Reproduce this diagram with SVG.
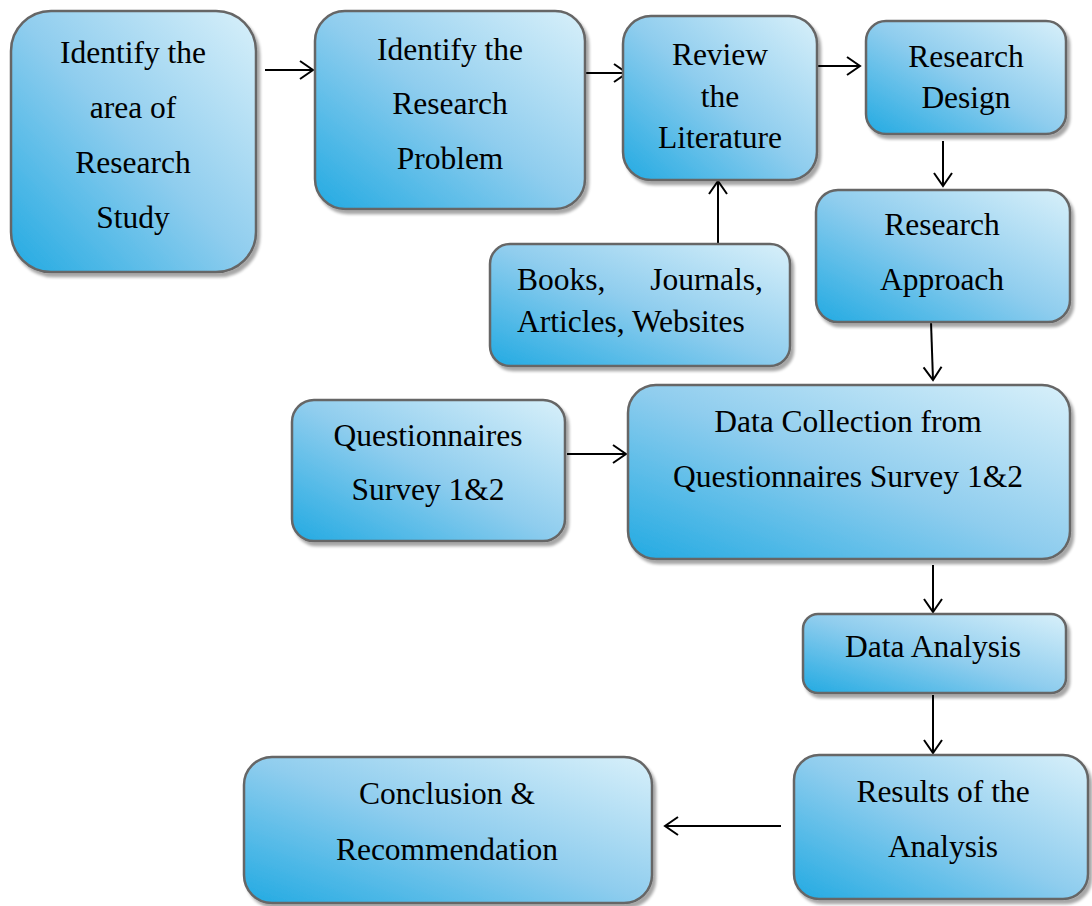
<svg xmlns="http://www.w3.org/2000/svg" width="1092" height="906" viewBox="0 0 1092 906">
<defs>
<linearGradient id="g" x1="0" y1="1" x2="1" y2="0">
<stop offset="0" stop-color="#22aae2"/>
<stop offset="0.5" stop-color="#8fcdee"/>
<stop offset="1" stop-color="#d8f0fa"/>
</linearGradient>
<filter id="sh" x="-10%" y="-10%" width="120%" height="120%">
<feGaussianBlur in="SourceAlpha" stdDeviation="1.5"/>
<feOffset dx="3" dy="4" result="o"/>
<feComponentTransfer><feFuncA type="linear" slope="0.35"/></feComponentTransfer>
<feMerge><feMergeNode/><feMergeNode in="SourceGraphic"/></feMerge>
</filter>
<marker id="ah" markerWidth="18" markerHeight="22" refX="14" refY="11" orient="auto" markerUnits="userSpaceOnUse">
<path d="M1,2 L14,11 L1,20" fill="none" stroke="#000" stroke-width="2"/>
</marker>
</defs>
<style>
.b{fill:url(#g);stroke:#666;stroke-width:2.5;filter:url(#sh)}
.t{font-family:"Liberation Serif","Times New Roman",serif;font-size:31.5px;fill:#000;text-anchor:middle}
.tl{font-family:"Liberation Serif","Times New Roman",serif;font-size:31.5px;fill:#000}
.c{stroke:#000;stroke-width:2;fill:none;marker-end:url(#ah)}
</style>
<rect width="1092" height="906" fill="#fff"/>
<g id="connectors">
<line class="c" x1="265" y1="70" x2="313" y2="70"/>
<line class="c" x1="585" y1="73" x2="627" y2="73"/>
<line class="c" x1="818" y1="66" x2="860" y2="66"/>
<line class="c" x1="943" y1="141" x2="943" y2="186"/>
<line class="c" x1="718" y1="253" x2="718" y2="181"/>
<line class="c" x1="931" y1="322" x2="933" y2="380"/>
<line class="c" x1="567" y1="454" x2="626" y2="454"/>
<line class="c" x1="933" y1="565" x2="933" y2="612"/>
<line class="c" x1="933" y1="695" x2="933" y2="753"/>
<line class="c" x1="781" y1="826" x2="665" y2="826"/>
</g>
<g id="n1"><rect class="b" x="11" y="11" width="245" height="261" rx="40"/>
<text class="t" x="133" y="63">Identify the</text><text class="t" x="133" y="118">area of</text><text class="t" x="133" y="173">Research</text><text class="t" x="133" y="228">Study</text></g>
<g id="n2"><rect class="b" x="315" y="11" width="270" height="198" rx="30"/>
<text class="t" x="450" y="60">Identify the</text><text class="t" x="450" y="114">Research</text><text class="t" x="450" y="169">Problem</text></g>
<g id="n3"><rect class="b" x="623" y="16" width="194" height="164" rx="28"/>
<text class="t" x="720" y="65">Review</text><text class="t" x="720" y="107">the</text><text class="t" x="720" y="148">Literature</text></g>
<g id="n4"><rect class="b" x="866" y="21" width="200" height="113" rx="20"/>
<text class="t" x="966" y="67">Research</text><text class="t" x="966" y="108">Design</text></g>
<g id="n5"><rect class="b" x="816" y="190" width="254" height="132" rx="22"/>
<text class="t" x="942" y="235">Research</text><text class="t" x="942" y="290">Approach</text></g>
<g id="n6"><rect class="b" x="490" y="244" width="300" height="122" rx="20"/>
<text class="tl" x="517" y="290">Books,</text><text class="tl" x="763" y="290" text-anchor="end">Journals,</text><text class="tl" x="517" y="332">Articles, Websites</text></g>
<g id="n7"><rect class="b" x="292" y="400" width="273" height="141" rx="22"/>
<text class="t" x="428" y="446">Questionnaires</text><text class="t" x="428" y="500">Survey 1&amp;2</text></g>
<g id="n8"><rect class="b" x="628" y="385" width="442" height="174" rx="28"/>
<text class="t" x="848" y="432">Data Collection from</text><text class="t" x="848" y="487">Questionnaires Survey 1&amp;2</text></g>
<g id="n9"><rect class="b" x="803" y="614" width="263" height="79" rx="15"/>
<text class="t" x="933" y="657">Data Analysis</text></g>
<g id="n10"><rect class="b" x="794" y="755" width="294" height="144" rx="25"/>
<text class="t" x="943" y="802">Results of the</text><text class="t" x="943" y="857">Analysis</text></g>
<g id="n11"><rect class="b" x="244" y="757" width="408" height="146" rx="28"/>
<text class="t" x="447" y="804">Conclusion &amp;</text><text class="t" x="447" y="860">Recommendation</text></g>
</svg>
